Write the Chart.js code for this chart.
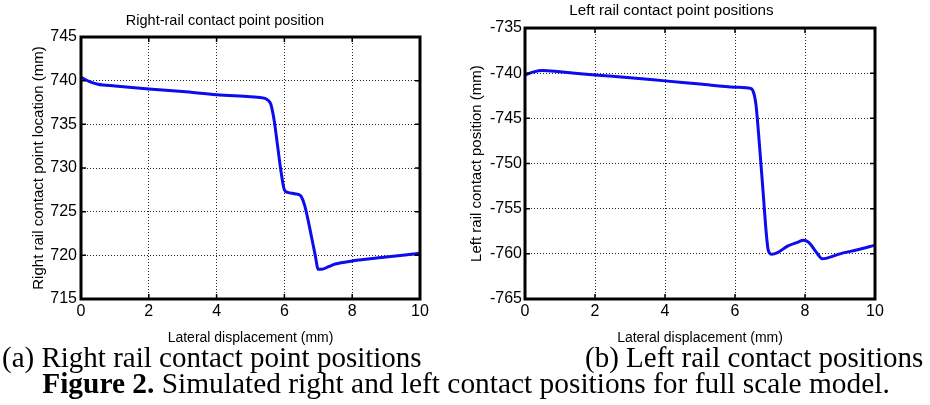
<!DOCTYPE html>
<html>
<head>
<meta charset="utf-8">
<script src="https://cdn.jsdelivr.net/npm/chart.js@4.4.1/dist/chart.umd.min.js"></script>
<style>
  body { margin: 0; background: #fff; width: 930px; height: 405px; position: relative; overflow: hidden; }
  canvas { position: absolute; top: 0; }
  #rightRail { left: 0; }
  #leftRail { left: 460px; }
  .cap { position: absolute; font-family: "Liberation Serif", "Times New Roman", serif; font-size: 29px; line-height: 29px; white-space: nowrap; color: #000; }
  #capA { left: 2px; top: 343px; }
  #capB { left: 585px; top: 343px; }
  #capFig { left: 0; width: 932px; text-align: center; top: 369px; font-size: 29.4px; }
</style>
</head>
<body>
<canvas id="rightRail" width="460" height="350"></canvas>
<canvas id="leftRail" width="470" height="350"></canvas>
<div class="cap" id="capA">(a) Right rail contact point positions</div>
<div class="cap" id="capB">(b) Left rail contact positions</div>
<div class="cap" id="capFig"><b>Figure 2.</b> Simulated right and left contact positions for full scale model.</div>
<script>
// lateral displacement (mm) vs contact point position (mm)
const rightRailX = [0, 0.25, 0.5, 1, 2, 3, 4, 5, 5.4, 5.5, 5.6, 5.7, 5.8, 5.9, 6.0, 6.1, 6.3, 6.45, 6.5, 6.6, 6.7, 6.8, 6.9, 7.0, 7.1, 7.3, 7.5, 8, 9, 10]
const rightRailY = [740.4, 739.9, 739.6, 739.4, 739.05, 738.75, 738.4, 738.15, 738.0, 737.8, 737.3, 735.4, 732.5, 729.6, 727.5, 727.2, 727.05, 726.9, 726.7, 725.7, 724.0, 722.1, 720.2, 718.4, 718.4, 718.7, 719.0, 719.35, 719.8, 720.25]

const leftRailX = [0, 0.25, 0.5, 1, 2, 3, 4, 5, 6, 6.45, 6.5, 6.55, 6.6, 6.7, 6.8, 6.9, 6.95, 7.05, 7.2, 7.5, 7.8, 7.95, 8.05, 8.15, 8.3, 8.5, 8.6, 9, 9.5, 10]
const leftRailY = [-740.2, -739.85, -739.7, -739.85, -740.2, -740.5, -740.85, -741.2, -741.55, -741.7, -741.85, -742.4, -743.5, -748.0, -753.0, -758.0, -759.6, -760.05, -759.9, -759.15, -758.7, -758.5, -758.6, -758.9, -759.7, -760.55, -760.5, -760.0, -759.55, -759.05]

const xTicks = [0, 2, 4, 6, 8, 10]

Chart.defaults.color = "#000"
Chart.defaults.font.family = "'Liberation Sans', Arial, Helvetica, sans-serif"

// black box round the axes with inward ticks on all four sides
const axesBox = {
    id: "axesBox",
    afterDraw(chart) {
        const {ctx, chartArea: a, scales: {x, y}} = chart
        ctx.save()
        ctx.strokeStyle = "#000"
        ctx.lineWidth = 1.5
        ctx.beginPath()
        x.ticks.forEach(t => {
            const px = x.getPixelForValue(t.value)
            ctx.moveTo(px, a.bottom); ctx.lineTo(px, a.bottom - 5)
            ctx.moveTo(px, a.top); ctx.lineTo(px, a.top + 5)
        })
        y.ticks.forEach(t => {
            const py = y.getPixelForValue(t.value)
            ctx.moveTo(a.left, py); ctx.lineTo(a.left + 5, py)
            ctx.moveTo(a.right, py); ctx.lineTo(a.right - 5, py)
        })
        ctx.stroke()
        ctx.lineWidth = 3
        ctx.strokeRect(a.left, a.top, a.width, a.height)
        ctx.restore()
    }
}

const makeChart = (id, xs, ys, o) => {
    const points = xs.map((v, i) => ({x: v, y: ys[i]}))
    new Chart(document.getElementById(id), {
        type: "line",
        data: {
            datasets: [{
                data: points,
                borderColor: "#0c0cee",
                borderWidth: 3,
                pointRadius: 0,
                cubicInterpolationMode: "monotone"
            }]
        },
        options: {
            responsive: false,
            animation: false,
            devicePixelRatio: 1,
            layout: {padding: o.padding},
            plugins: {
                legend: {display: false},
                tooltip: {enabled: false},
                title: {
                    display: true,
                    text: o.title,
                    font: {size: o.titleSize, weight: "normal"},
                    padding: o.titlePadding
                }
            },
            scales: {
                x: {
                    type: "linear",
                    min: 0,
                    max: 10,
                    afterBuildTicks: s => { s.ticks = xTicks.map(v => ({value: v})) },
                    afterFit: s => { s.height = o.xHeight },
                    grid: {color: "#222", lineWidth: 1, drawTicks: false, borderDash: [1, 2]},
                    border: {display: false, dash: [1, 2]},
                    ticks: {font: {size: 16}, padding: 3, maxRotation: 0},
                    title: {display: true, text: "Lateral displacement (mm)", font: {size: 14}, padding: {top: 0, bottom: 3.6}}
                },
                y: {
                    min: o.yMin,
                    max: o.yMax,
                    ticks: {stepSize: 5, font: {size: 16}, padding: o.yTickPad},
                    afterFit: s => { s.width = o.yWidth },
                    grid: {color: "#222", lineWidth: 1, drawTicks: false, borderDash: [1, 2]},
                    border: {display: false, dash: [1, 2]},
                    title: {display: true, text: o.yTitle, font: {size: 15}, padding: {top: 0, bottom: 0}}
                }
            }
        },
        plugins: [axesBox]
    })
}

makeChart("rightRail", rightRailX, rightRailY, {
    title: "Right-rail contact point position",
    titleSize: 14.5,
    yTitle: "Right rail contact point location (mm)",
    yMin: 715, yMax: 745,
    padding: {left: 30, right: 40, top: 0, bottom: 0},
    titlePadding: {top: 12.3, bottom: 7.3},
    yWidth: 51, yTickPad: 4, xHeight: 51
})

makeChart("leftRail", leftRailX, leftRailY, {
    title: "Left rail contact point positions",
    titleSize: 15.2,
    yTitle: "Left rail contact position (mm)",
    yMin: -765, yMax: -735,
    padding: {left: 8, right: 55, top: 0, bottom: 0},
    titlePadding: {top: 1.9, bottom: 7.9},
    yWidth: 57, yTickPad: 3, xHeight: 51
})
</script>
</body>
</html>
